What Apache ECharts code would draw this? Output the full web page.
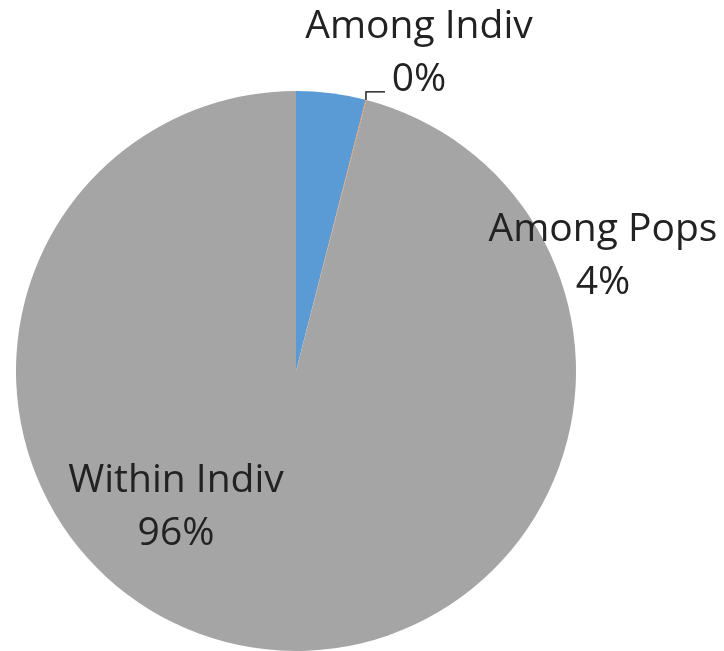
<!DOCTYPE html>
<html>
<head>
<meta charset="utf-8">
<script src="https://cdn.jsdelivr.net/npm/echarts@6/dist/echarts.min.js"></script>
<style>
html,body{margin:0;padding:0;background:#fff;}
#chart{width:724px;height:651px;}
</style>
</head>
<body>
<div id="chart"></div>
<script>
var categories = ['Among Pops', 'Among Indiv', 'Within Indiv'];
var values = [4.0, 0.04, 95.96];
var colors = ['#5B9BD5', '#ED7D31', '#A5A5A5'];

var labelSpots = [[603, 256], [419, 53], [176, 507]];

var chart = echarts.init(document.getElementById('chart'), null, {renderer: 'canvas'});
var data = categories.map(function (c, i) {
  return {
    name: c,
    value: values[i],
    itemStyle: {color: colors[i]},
    labelLine: {show: i === 1, lineStyle: {color: '#000', width: 1.3}}
  };
});

chart.setOption({
  animation: false,
  backgroundColor: '#fff',
  series: [{
    type: 'pie',
    center: [296, 371],
    radius: 280,
    startAngle: 90,
    clockwise: true,
    avoidLabelOverlap: false,
    itemStyle: {borderWidth: 0},
    label: {
      show: true,
      position: 'outside',
      fontFamily: 'Open Sans',
      fontSize: 39,
      lineHeight: 53,
      color: '#222',
      align: 'center',
      formatter: function (p) {
        return p.name + '\n' + Math.round(p.percent) + '%';
      }
    },
    labelLine: {show: false, length: 10, length2: 10},
    labelLayout: function (p) {
      var s = labelSpots[p.dataIndex];
      var out = {x: s[0], y: s[1], align: 'center', verticalAlign: 'middle'};
      if (p.dataIndex === 1 && p.labelLinePoints) {
        var p0 = p.labelLinePoints[0];
        out.labelLinePoints = [[p0[0], p0[1]], [p0[0], p0[1] - 8], [p0[0] + 19, p0[1] - 8]];
      }
      return out;
    },
    data: data
  }]
});
</script>
</body>
</html>
